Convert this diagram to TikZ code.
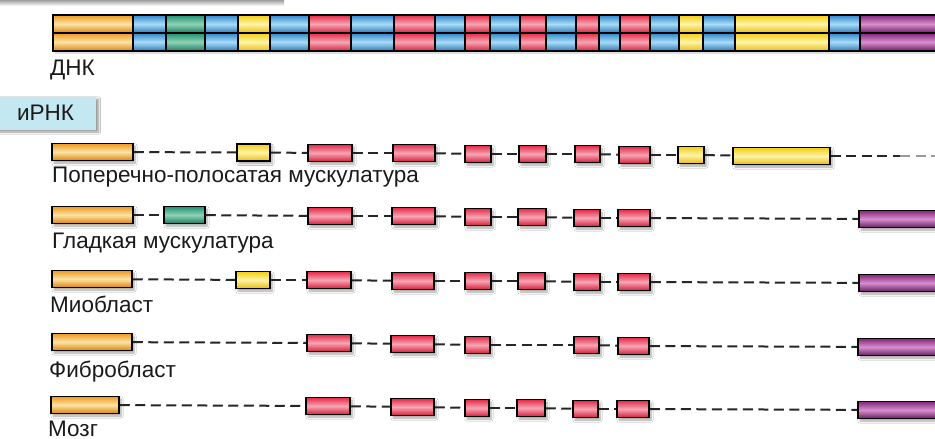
\documentclass[tikz,border=0pt]{standalone}
\usepackage{fontspec}
\setmainfont{Liberation Sans}
\usetikzlibrary{shadows.blur}
\definecolor{oB}{HTML}{EE9A22}\definecolor{oL}{HTML}{FCE3A6}\definecolor{oD}{HTML}{DC8408}
\definecolor{bB}{HTML}{2E86CC}\definecolor{bL}{HTML}{A9DCF7}\definecolor{bD}{HTML}{2A78B8}
\definecolor{gB}{HTML}{1E9272}\definecolor{gL}{HTML}{8FD3B4}\definecolor{gD}{HTML}{1A7C62}
\definecolor{yB}{HTML}{F2CC14}\definecolor{yL}{HTML}{FFF4A8}\definecolor{yD}{HTML}{E8BC10}
\definecolor{rB}{HTML}{E62A45}\definecolor{rL}{HTML}{F6A6B4}\definecolor{rD}{HTML}{D81E3A}
\definecolor{pB}{HTML}{84247E}\definecolor{pL}{HTML}{D690CC}\definecolor{pD}{HTML}{6A1A66}
\definecolor{cyanbox}{HTML}{C4E8F1}
\definecolor{txt}{HTML}{1A1A1A}
\begin{document}
\begin{tikzpicture}[x=1pt,y=-1pt,
  shO/.style={top color=oB, bottom color=oD, middle color=oL},
  shB/.style={top color=bB, bottom color=bD, middle color=bL},
  shG/.style={top color=gB, bottom color=gD, middle color=gL},
  shY/.style={top color=yB, bottom color=yD, middle color=yL},
  shR/.style={top color=rB, bottom color=rD, middle color=rL},
  shP/.style={top color=pB, bottom color=pD, middle color=pL},
  segO/.style={draw=black, line width=1.2pt, shO},
  segB/.style={draw=black, line width=1.2pt, shB},
  segG/.style={draw=black, line width=1.2pt, shG},
  segY/.style={draw=black, line width=1.2pt, shY},
  segR/.style={draw=black, line width=1.2pt, shR},
  segP/.style={draw=black, line width=1.2pt, shP},
  exon/.style={rectangle, draw=black, line width=1.5pt, inner sep=0pt, minimum height=17pt,
    blur shadow={shadow xshift=2pt, shadow yshift=-2.5pt, shadow blur steps=6, shadow opacity=35}},
  exO/.style={exon, shO}, exG/.style={exon, shG}, exY/.style={exon, shY},
  exR/.style={exon, shR}, exP/.style={exon, shP},
  dl/.style={draw=black!85, line width=2pt, dash pattern=on 10pt off 5.5pt},
  lbl/.style={anchor=base west, inner sep=0pt, text=txt, font=\fontsize{22.5}{26}\selectfont}
]
\newcommand\ex[5]{\node[#2, minimum width={(#4-#3)*1pt}] (#1) at ({(#3+#4)/2},#5) {};}
% background / bounding box
\fill[white] (0,0) rectangle (935,439);
\useasboundingbox (0,0) rectangle (935,439);
% cut-off grey box at the top
\shade[top color=gray!75, bottom color=white] (0,0) rectangle (284,6);

% ---- DNA ----
\fill[black!25, opacity=0.5] (55,17) rectangle (937,54);
\foreach \a/\b/\c in {53/133/O,133/166/B,166/205/G,205/238/B,238/270/Y,270/309/B,309/351/R,351/394/B,394/435/R,435/465/B,465/490/R,490/520/B,520/546/R,546/576/B,576/599/R,599/620/B,620/650/R,650/679/B,679/703/Y,703/735/B,735/829/Y,829/860/B,860/936/P}{
  \path[seg\c] (\a,15) rectangle (\b,33);
  \path[seg\c] (\a,33) rectangle (\b,51);
}
\draw[line width=1.9pt] (53,15) rectangle (936,51);
\draw[line width=1.9pt] (53,33) -- (936,33);
\node[lbl] (dnk) at (50,75) {ДНК};

% ---- mRNA label box ----
\node[rectangle, fill=cyanbox, minimum width=101pt, minimum height=33pt, inner sep=0pt,
  text=txt, font=\fontsize{22.5}{26}\selectfont,
  blur shadow={shadow xshift=2.5pt, shadow yshift=-2.5pt, shadow blur steps=6, shadow opacity=40}]
  (irnk) at (45.5,113) {иРНК};

% ---- Row 1 ----
\ex{r1a}{exO}{52}{133}{152}
\ex{r1b}{exY}{237}{270}{152.5}
\ex{r1c}{exR}{308}{352}{153}
\ex{r1d}{exR}{393}{435}{153}
\ex{r1e}{exR}{465}{491}{154}
\ex{r1f}{exR}{519}{546}{154}
\ex{r1g}{exR}{575}{600}{154}
\ex{r1h}{exR}{619}{650}{155}
\ex{r1i}{exY}{678}{704}{155}
\ex{r1j}{exY}{733}{830}{156}
\coordinate (r1m) at (900,156);
\coordinate (r1z) at (935,156);
\node[lbl] (l1) at (52,182) {Поперечно-полосатая мускулатура};

% ---- Row 2 ----
\ex{r2a}{exO}{52}{133}{215}
\ex{r2b}{exG}{164}{205}{215}
\ex{r2c}{exR}{308}{352}{216}
\ex{r2d}{exR}{392}{435}{216}
\ex{r2e}{exR}{465}{491}{217}
\ex{r2f}{exR}{518}{546}{217}
\ex{r2g}{exR}{574}{600}{218}
\ex{r2h}{exR}{618}{650}{218}
\ex{r2i}{exP}{859}{936}{219}
\node[lbl] (l2) at (52,248) {Гладкая мускулатура};

% ---- Row 3 ----
\ex{r3a}{exO}{52}{132}{279}
\ex{r3b}{exY}{236}{270}{280}
\ex{r3c}{exR}{307}{351}{280}
\ex{r3d}{exR}{392}{434}{281}
\ex{r3e}{exR}{465}{491}{281}
\ex{r3f}{exR}{518}{545}{281}
\ex{r3g}{exR}{574}{600}{282}
\ex{r3h}{exR}{618}{650}{282}
\ex{r3i}{exP}{859}{936}{283}
\node[lbl] (l3) at (50,312) {Миобласт};

% ---- Row 4 ----
\ex{r4a}{exO}{52}{132}{342}
\ex{r4b}{exR}{307}{351}{343}
\ex{r4c}{exR}{391}{434}{344}
\ex{r4d}{exR}{465}{490}{345}
\ex{r4e}{exR}{574}{599}{345}
\ex{r4f}{exR}{618}{649}{346}
\ex{r4g}{exP}{858}{936}{347}
\node[lbl] (l4) at (49,377) {Фибробласт};

% ---- Row 5 ----
\ex{r5a}{exO}{51}{119}{405}
\ex{r5b}{exR}{306}{350}{406}
\ex{r5c}{exR}{391}{434}{407}
\ex{r5d}{exR}{465}{489}{408}
\ex{r5e}{exR}{517}{545}{408}
\ex{r5f}{exR}{573}{598}{409}
\ex{r5g}{exR}{617}{649}{409}
\ex{r5h}{exP}{858}{936}{410}
\node[lbl] (l5) at (48,436) {Мозг};

% ---- dashed connectors (introns) ----
\foreach \p/\q in {r1a/r1b,r1b/r1c,r1c/r1d,r1d/r1e,r1e/r1f,r1f/r1g,r1g/r1h,r1h/r1i,r1i/r1j,r1j/r1m,
  r2a/r2b,r2b/r2c,r2c/r2d,r2d/r2e,r2e/r2f,r2f/r2g,r2g/r2h,r2h/r2i,
  r3a/r3b,r3b/r3c,r3c/r3d,r3d/r3e,r3e/r3f,r3f/r3g,r3g/r3h,r3h/r3i,
  r4a/r4b,r4b/r4c,r4c/r4d,r4d/r4e,r4e/r4f,r4f/r4g,
  r5a/r5b,r5b/r5c,r5c/r5d,r5d/r5e,r5e/r5f,r5f/r5g,r5g/r5h}
  {\draw[dl] (\p) -- (\q);}
\draw[dl, draw=black!40] (r1m) -- (r1z);
\end{tikzpicture}
\end{document}
